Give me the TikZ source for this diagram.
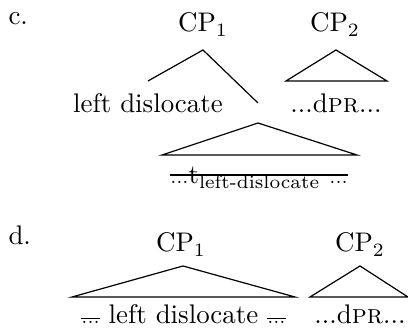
\documentclass[tikz,border=0pt]{standalone}
\usepackage{amsmath}
\begin{document}
\begin{tikzpicture}[
            x=0.3717pt,
            y=-0.3717pt,
            label/.style={
                draw=none,
                inner sep=0pt,
                anchor=base
            },
            exnum/.style={
                draw=none,
                inner sep=0pt,
                anchor=base west
            },
            branch/.style={line width=0.45pt}
        ]
        \useasboundingbox (0,0) rectangle (408,331);

        % Example letters
        \node[exnum] (mc) at (8,25) {c.};
        \node[exnum] (md) at (8,245) {d.};

        % Tree c: labels
        \node[label] (c-cp1) at (203,32) {CP$_1$};
        \node[label] (c-cp2) at (335,32) {CP$_2$};
        \node[label] (c-ld) at (148,113) {left dislocate};
        \node[label] (c-dpr) at (336,113) {...d\textsc{pr}...};
        \node[label] (c-trace) at (259,184) {{\scriptsize...}t$_{\text{left-dislocate}}$ {\scriptsize...}};

        % Tree c: branch points
        \coordinate (c-top1) at (203,50);
        \coordinate (c-left) at (148,81);
        \coordinate (c-right) at (258,103);
        \coordinate (c-top2) at (336,50);
        \coordinate (c-bl2) at (286,81);
        \coordinate (c-br2) at (387,81);
        \coordinate (c-top3) at (258,123);
        \coordinate (c-bl3) at (162,155);
        \coordinate (c-br3) at (357,155);

        % Tree c: branches and triangles
        \draw[branch] (c-left) -- (c-top1) -- (c-right);
        \draw[branch] (c-top2) -- (c-bl2) -- (c-br2) -- cycle;
        \draw[branch] (c-top3) -- (c-bl3) -- (c-br3) -- cycle;
        \draw[branch] ([yshift=-3pt]c-trace.north west) -- ([yshift=-3pt]c-trace.north east);

        % Tree d: labels
        \node[label] (d-cp1) at (181,252) {CP$_1$};
        \node[label] (d-cp2) at (360,252) {CP$_2$};
        \node[label] (d-ld) at (183.5,324) {$\overline{\mbox{\scriptsize...}}$ left dislocate $\overline{\mbox{\scriptsize...}}$};
        \node[label] (d-dpr) at (360,324) {...d\textsc{pr}...};

        % Tree d: triangles
        \coordinate (d-top1) at (183,266);
        \coordinate (d-bl1) at (72,297);
        \coordinate (d-br1) at (295,297);
        \coordinate (d-top2) at (360,266);
        \coordinate (d-bl2) at (310,297);
        \coordinate (d-br2) at (408,297);
        \draw[branch] (d-top1) -- (d-bl1) -- (d-br1) -- cycle;
        \draw[branch] (d-top2) -- (d-bl2) -- (d-br2) -- cycle;

\end{tikzpicture}
\end{document}
